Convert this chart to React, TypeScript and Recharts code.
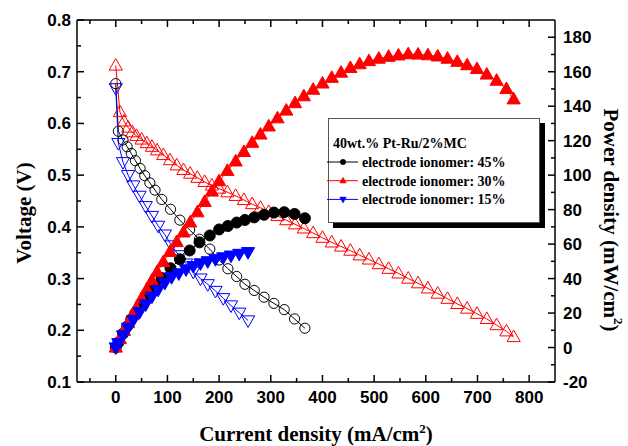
import React from "react";
import { ComposedChart, Line, XAxis, YAxis, Legend, Label } from "recharts";

// ---- data (current in mA/cm2, voltage in V, power in mW/cm2)
const current45 = [0, 5, 14, 22, 30, 38, 47, 56, 66, 76, 89, 106, 124, 143, 162, 182, 200, 217, 234, 250, 268, 287, 306, 326, 346, 366];
const voltage45 = [0.677, 0.585, 0.568, 0.555, 0.542, 0.528, 0.513, 0.499, 0.485, 0.471, 0.453, 0.434, 0.413, 0.394, 0.376, 0.357, 0.336, 0.319, 0.304, 0.289, 0.277, 0.264, 0.252, 0.24, 0.222, 0.204];
const power45 = [0, 2.9, 8, 12.2, 16.3, 20, 24, 28, 32, 35.8, 40.3, 46, 51.2, 56.3, 61, 65, 68.5, 70.5, 72.5, 74, 75.5, 77, 78.3, 78.5, 77.5, 75];

const current30 = [0, 8, 16, 24, 32, 40, 50, 60, 70, 80, 92, 105, 118, 131, 144, 158, 172, 186, 200, 216, 232, 248, 264, 280, 296, 313, 330, 347, 364, 382, 400, 418, 436, 454, 472, 490, 509, 528, 547, 566, 585, 604, 623, 642, 661, 680, 699, 718, 737, 756, 770];
const voltage30 = [0.712, 0.622, 0.604, 0.592, 0.583, 0.576, 0.569, 0.562, 0.555, 0.548, 0.539, 0.529, 0.519, 0.51, 0.503, 0.495, 0.487, 0.48, 0.474, 0.467, 0.46, 0.452, 0.444, 0.437, 0.429, 0.421, 0.413, 0.405, 0.397, 0.388, 0.379, 0.37, 0.362, 0.354, 0.345, 0.337, 0.328, 0.319, 0.31, 0.3, 0.291, 0.281, 0.271, 0.261, 0.251, 0.242, 0.232, 0.222, 0.21, 0.198, 0.187];
const power30 = [0, 5, 9.7, 14.2, 18.7, 23, 28.5, 33.7, 38.9, 43.8, 49.6, 55.5, 61.2, 66.8, 72.6, 78.5, 84.5, 90.5, 96.5, 102.5, 108, 113.5, 118.8, 123.6, 128.3, 133, 137.5, 141.8, 145.8, 149.6, 153.2, 156.5, 159.5, 162.2, 164.4, 166.2, 167.6, 168.7, 169.5, 170.2, 170, 169.6, 168.9, 167.6, 165.8, 163.8, 161.6, 158.4, 154.8, 150, 144];

const current15 = [0, 5, 14, 24, 34, 46, 58, 70, 82, 95, 108, 122, 136, 150, 164, 178, 193, 208, 223, 239, 256];
const voltage15 = [0.668, 0.562, 0.525, 0.5, 0.48, 0.46, 0.44, 0.421, 0.402, 0.385, 0.364, 0.345, 0.329, 0.313, 0.3, 0.289, 0.276, 0.262, 0.248, 0.234, 0.219];
const power15 = [0, 2.5, 7, 11.5, 16, 20.5, 25, 29.5, 33.5, 37.5, 40.8, 43, 45.3, 47.2, 48.8, 50, 51.2, 52.3, 53.3, 54.3, 55.3];

const xTicks = [-50, 0, 50, 100, 150, 200, 250, 300, 350, 400, 450, 500, 550, 600, 650, 700, 750, 800];
const vTicks = [0.1, 0.15, 0.2, 0.25, 0.3, 0.35, 0.4, 0.45, 0.5, 0.55, 0.6, 0.65, 0.7, 0.75, 0.8];
const pTicks = [-20, -10, 0, 10, 20, 30, 40, 50, 60, 70, 80, 90, 100, 110, 120, 130, 140, 150, 160, 170, 180];

const legendTitle = "40wt.% Pt-Ru/2%MC";
const seriesNames = ["electrode ionomer: 45%", "electrode ionomer: 30%", "electrode ionomer: 15%"];

const BLACK = "#000000";
const RED = "#ff0000";
const BLUE = "#0000ff";

const SANS = "'Liberation Sans', Arial, sans-serif";
const SERIF = "'Liberation Serif', 'Times New Roman', serif";

const toRows = (cur: number[], v: number[], p: number[]) =>
  cur.map((x, i) => ({ x, v: v[i], p: p[i] }));

const data45 = toRows(current45, voltage45, power45);
const data30 = toRows(current30, voltage30, power30);
const data15 = toRows(current15, voltage15, power15);

// ---- markers
type Kind = "circle" | "up" | "down";

function marker(kind: Kind, color: string, filled: boolean) {
  return (props: any) => {
    const { cx, cy, index } = props;
    if (cx == null || cy == null) return <g key={index} />;
    const fill = filled ? color : "none";
    if (kind === "circle") {
      return <circle key={index} cx={cx} cy={cy} r={filled ? 5.5 : 5.1} fill={fill} stroke={color} strokeWidth={1} />;
    }
    const pts =
      kind === "up"
        ? `${cx},${cy - 7} ${cx - 6.6},${cy + 4.6} ${cx + 6.6},${cy + 4.6}`
        : `${cx},${cy + 7} ${cx - 6.6},${cy - 4.6} ${cx + 6.6},${cy - 4.6}`;
    return <polygon key={index} points={pts} fill={fill} stroke={color} strokeWidth={1} />;
  };
}

// ---- ticks (inward, with minor ticks)
function BottomTick({ x, y, payload }: any) {
  const v = payload.value;
  const major = v % 100 === 0;
  return (
    <g>
      <line x1={x} x2={x} y1={y} y2={y - (major ? 7 : 4)} stroke="#000" strokeWidth={1.5} />
      {major && (
        <text x={x} y={y + 21} textAnchor="middle" fontFamily={SANS} fontWeight="bold" fontSize={17} fill="#000">
          {v}
        </text>
      )}
    </g>
  );
}

function TopTick({ x, y, payload }: any) {
  const major = payload.value % 100 === 0;
  return <line x1={x} x2={x} y1={y} y2={y + (major ? 7 : 4)} stroke="#000" strokeWidth={1.5} />;
}

function LeftTick({ x, y, payload }: any) {
  const v = payload.value;
  const major = Math.round(v * 100) % 10 === 0;
  return (
    <g>
      <line x1={x} x2={x + (major ? 7 : 4)} y1={y} y2={y} stroke="#000" strokeWidth={1.5} />
      {major && (
        <text x={x - 6} y={y + 6} textAnchor="end" fontFamily={SANS} fontWeight="bold" fontSize={17} fill="#000">
          {v.toFixed(1)}
        </text>
      )}
    </g>
  );
}

function RightTick({ x, y, payload }: any) {
  const v = payload.value;
  const major = v % 20 === 0;
  return (
    <g>
      <line x1={x} x2={x - (major ? 7 : 4)} y1={y} y2={y} stroke="#000" strokeWidth={1.5} />
      {major && (
        <text x={x + 8} y={y + 6} textAnchor="start" fontFamily={SANS} fontWeight="bold" fontSize={17} fill="#000">
          {v}
        </text>
      )}
    </g>
  );
}

const titleStyle = { fontFamily: SERIF, fontWeight: "bold" as const, fontSize: 21, fill: "#000" };

function LegendBox() {
  const rows = [
    { color: BLACK, kind: "circle" as Kind },
    { color: RED, kind: "up" as Kind },
    { color: BLUE, kind: "down" as Kind },
  ];
  return (
    <div style={{ width: 212, height: 105, boxSizing: "border-box", border: "1px solid #555", background: "#fff", boxShadow: "5px 5px 0 #000" }}>
      <svg width={212} height={105} style={{ position: "absolute", left: 0, top: 0, overflow: "visible" }}>
        <text x={5} y={30} fontFamily={SERIF} fontWeight="bold" fontSize={14} fill="#000">
          {legendTitle}
        </text>
        {rows.map((r, i) => {
          const cy = 44 + i * 18.7;
          const m = marker(r.kind, r.color, true)({ cx: 15, cy, index: i });
          return (
            <g key={i}>
              <line x1={-1} x2={30} y1={cy} y2={cy} stroke={r.color} strokeWidth={1} />
              <g transform={`translate(15 ${cy}) scale(0.5) translate(-15 ${-cy})`}>{m}</g>
              <text x={34} y={cy + 5} fontFamily={SERIF} fontWeight="bold" fontSize={14} fill="#000">
                {seriesNames[i]}
              </text>
            </g>
          );
        })}
      </svg>
    </div>
  );
}

export default function App() {
  return (
    <div style={{ position: "fixed", left: 0, top: 0, width: 628, height: 446, background: "#fff" }}>
      <ComposedChart width={628} height={446} margin={{ top: 10, right: 0, bottom: 34, left: 0 }}>
        <XAxis
          xAxisId="x"
          dataKey="x"
          type="number"
          domain={[-75, 850]}
          allowDataOverflow
          ticks={xTicks}
          interval={0}
          tick={<BottomTick />}
          tickLine={false}
          tickSize={0}
          tickMargin={0}
          height={30}
          axisLine={{ stroke: "#000", strokeWidth: 1.5 }}
        >
          <Label
            content={() => (
              <text x={316} y={441} textAnchor="middle" {...titleStyle}>
                Current density (mA/cm
                <tspan dy={-8} fontSize={13}>2</tspan>
                <tspan dy={8}>)</tspan>
              </text>
            )}
          />
        </XAxis>
        <XAxis
          xAxisId="top"
          dataKey="x"
          orientation="top"
          type="number"
          domain={[-75, 850]}
          allowDataOverflow
          ticks={xTicks}
          interval={0}
          tick={<TopTick />}
          tickLine={false}
          tickSize={0}
          tickMargin={0}
          height={10}
          axisLine={{ stroke: "#000", strokeWidth: 1.5 }}
        />
        <YAxis
          yAxisId="v"
          orientation="left"
          type="number"
          domain={[0.1, 0.8]}
          allowDataOverflow
          ticks={vTicks}
          interval={0}
          tick={<LeftTick />}
          tickLine={false}
          tickSize={0}
          tickMargin={0}
          width={77}
          axisLine={{ stroke: "#000", strokeWidth: 1.5 }}
        >
          <Label
            content={() => (
              <text transform="translate(24 213) rotate(-90)" textAnchor="middle" dominantBaseline="central" {...titleStyle}>
                Voltage (V)
              </text>
            )}
          />
        </YAxis>
        <YAxis
          yAxisId="p"
          orientation="right"
          type="number"
          domain={[-20, 190]}
          allowDataOverflow
          ticks={pTicks}
          interval={0}
          tick={<RightTick />}
          tickLine={false}
          tickSize={0}
          tickMargin={0}
          width={73}
          axisLine={{ stroke: "#000", strokeWidth: 1.5 }}
        >
          <Label
            content={() => (
              <text transform="translate(611 220) rotate(90)" textAnchor="middle" dominantBaseline="central" {...titleStyle}>
                Power density (mW/cm
                <tspan dy={-8} fontSize={13}>2</tspan>
                <tspan dy={8}>)</tspan>
              </text>
            )}
          />
        </YAxis>

        <Line data={data45} xAxisId="x" yAxisId="v" dataKey="v" stroke={BLACK} strokeWidth={1} dot={marker("circle", BLACK, false)} activeDot={false} isAnimationActive={false} />
        <Line data={data30} xAxisId="x" yAxisId="v" dataKey="v" stroke={RED} strokeWidth={1} dot={marker("up", RED, false)} activeDot={false} isAnimationActive={false} />
        <Line data={data15} xAxisId="x" yAxisId="v" dataKey="v" stroke={BLUE} strokeWidth={1} dot={marker("down", BLUE, false)} activeDot={false} isAnimationActive={false} />
        <Line data={data45} xAxisId="x" yAxisId="p" dataKey="p" stroke={BLACK} strokeWidth={1} dot={marker("circle", BLACK, true)} activeDot={false} isAnimationActive={false} />
        <Line data={data30} xAxisId="x" yAxisId="p" dataKey="p" stroke={RED} strokeWidth={1} dot={marker("up", RED, true)} activeDot={false} isAnimationActive={false} />
        <Line data={data15} xAxisId="x" yAxisId="p" dataKey="p" stroke={BLUE} strokeWidth={1} dot={marker("down", BLUE, true)} activeDot={false} isAnimationActive={false} />

        <Legend
          layout="vertical"
          align="center"
          verticalAlign="middle"
          content={<LegendBox />}
          wrapperStyle={{ position: "absolute", left: 328, top: 118, width: 212, height: 105, margin: 0 }}
        />
      </ComposedChart>
    </div>
  );
}
